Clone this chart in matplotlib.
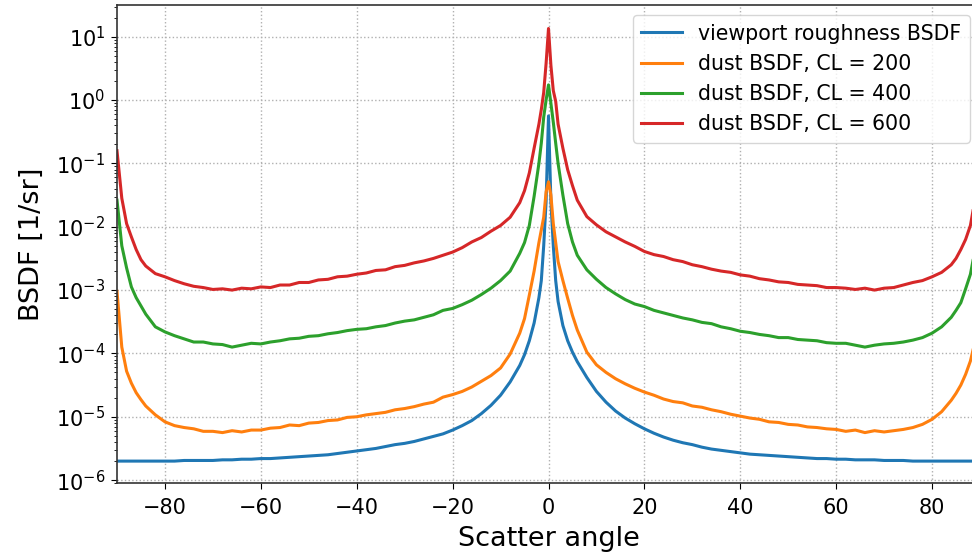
import numpy as np
import matplotlib
matplotlib.use("Agg")
import matplotlib.pyplot as plt
from matplotlib.ticker import NullFormatter

# scatter angle in degrees (shared by all curves)
angles = [-90, -89, -88, -87, -86, -85, -84, -82, -80, -78, -76, -74, -72, -70,
          -68, -66, -64, -62, -60, -58, -56, -54, -52, -50, -48, -46, -44, -42,
          -40, -38, -36, -34, -32, -30, -28, -26, -24, -22, -20, -18, -16, -14,
          -12, -10, -8, -6, -5, -4, -3, -2, -1.5, -1, -0.5, 0,
          0.5, 1, 1.5, 2, 3, 4, 5, 6, 8, 10, 12, 14, 16, 18, 20, 22, 24, 26,
          28, 30, 32, 34, 36, 38, 40, 42, 44, 46, 48, 50, 52, 54, 56, 58, 60,
          62, 64, 66, 68, 70, 72, 74, 76, 78, 80, 82, 84, 85, 86, 87, 88, 89, 90]

# log10 of BSDF [1/sr]
log_viewport = [-5.70, -5.70, -5.70, -5.70, -5.70, -5.70, -5.70, -5.70, -5.70, -5.70, -5.69, -5.69, -5.69, -5.69,
                -5.68, -5.68, -5.67, -5.67, -5.66, -5.66, -5.65, -5.64, -5.63, -5.62, -5.61, -5.60, -5.58, -5.56,
                -5.54, -5.52, -5.50, -5.47, -5.44, -5.42, -5.39, -5.35, -5.31, -5.27, -5.21, -5.14, -5.06, -4.95,
                -4.82, -4.66, -4.45, -4.19, -4.02, -3.80, -3.52, -3.12, -2.85, -2.30, -1.60, -0.25,
                -1.60, -2.30, -2.85, -3.18, -3.56, -3.80, -3.98, -4.13, -4.38, -4.60, -4.77, -4.91, -5.02, -5.11,
                -5.19, -5.26, -5.32, -5.37, -5.41, -5.44, -5.48, -5.51, -5.53, -5.55, -5.57, -5.59, -5.60, -5.61,
                -5.62, -5.63, -5.64, -5.65, -5.66, -5.66, -5.67, -5.67, -5.68, -5.68, -5.68, -5.69, -5.69, -5.69,
                -5.70, -5.70, -5.70, -5.70, -5.70, -5.70, -5.70, -5.70, -5.70, -5.70, -5.70]

log_cl200 = [-3.02, -3.90, -4.28, -4.47, -4.62, -4.73, -4.83, -4.97, -5.08, -5.14, -5.17, -5.19, -5.23, -5.23,
             -5.25, -5.22, -5.24, -5.21, -5.21, -5.18, -5.17, -5.13, -5.14, -5.10, -5.09, -5.06, -5.05, -5.01,
             -5.00, -4.97, -4.95, -4.93, -4.89, -4.87, -4.84, -4.80, -4.77, -4.69, -4.65, -4.60, -4.53, -4.44,
             -4.35, -4.23, -4.01, -3.68, -3.45, -3.08, -2.70, -2.25, -2.05, -1.85, -1.45, -1.29,
             -1.50, -1.95, -2.25, -2.55, -2.85, -3.13, -3.40, -3.63, -3.98, -4.18, -4.30, -4.40, -4.48, -4.55,
             -4.61, -4.66, -4.72, -4.76, -4.78, -4.83, -4.85, -4.89, -4.92, -4.96, -4.99, -5.02, -5.04, -5.08,
             -5.09, -5.12, -5.13, -5.16, -5.17, -5.19, -5.20, -5.23, -5.21, -5.25, -5.22, -5.24, -5.22, -5.20,
             -5.17, -5.12, -5.04, -4.92, -4.74, -4.63, -4.50, -4.33, -4.12, -3.80, -3.00]

log_cl400 = [-1.58, -2.30, -2.65, -2.95, -3.12, -3.25, -3.38, -3.58, -3.66, -3.72, -3.77, -3.82, -3.82, -3.85,
             -3.86, -3.90, -3.87, -3.84, -3.85, -3.82, -3.80, -3.77, -3.76, -3.73, -3.72, -3.69, -3.67, -3.64,
             -3.62, -3.61, -3.58, -3.56, -3.52, -3.49, -3.47, -3.43, -3.39, -3.32, -3.29, -3.23, -3.16, -3.07,
             -2.97, -2.85, -2.70, -2.42, -2.25, -1.98, -1.52, -1.00, -0.68, -0.27, 0.00, 0.24,
             -0.05, -0.35, -0.68, -1.00, -1.50, -1.95, -2.24, -2.45, -2.68, -2.83, -2.96, -3.06, -3.15, -3.22,
             -3.26, -3.32, -3.36, -3.40, -3.44, -3.47, -3.51, -3.53, -3.58, -3.61, -3.65, -3.67, -3.70, -3.72,
             -3.75, -3.75, -3.78, -3.79, -3.80, -3.83, -3.84, -3.84, -3.87, -3.90, -3.87, -3.85, -3.84, -3.82,
             -3.79, -3.75, -3.68, -3.58, -3.43, -3.32, -3.20, -2.98, -2.75, -2.35, -1.60]

log_cl600 = [-0.80, -1.55, -1.95, -2.16, -2.36, -2.52, -2.62, -2.74, -2.79, -2.85, -2.90, -2.94, -2.96, -2.99,
             -2.98, -3.00, -2.97, -2.98, -2.95, -2.96, -2.92, -2.92, -2.88, -2.88, -2.84, -2.83, -2.79, -2.78,
             -2.75, -2.73, -2.69, -2.68, -2.63, -2.61, -2.57, -2.54, -2.50, -2.45, -2.40, -2.33, -2.24, -2.17,
             -2.07, -1.98, -1.85, -1.62, -1.43, -1.15, -0.76, -0.38, -0.15, 0.12, 0.58, 1.13,
             0.55, 0.15, -0.02, -0.38, -0.76, -1.10, -1.35, -1.58, -1.84, -1.97, -2.08, -2.16, -2.24, -2.31,
             -2.39, -2.44, -2.47, -2.52, -2.55, -2.60, -2.63, -2.67, -2.70, -2.72, -2.76, -2.78, -2.82, -2.84,
             -2.87, -2.88, -2.91, -2.92, -2.93, -2.96, -2.96, -2.97, -2.99, -2.97, -3.00, -2.97, -2.96, -2.92,
             -2.88, -2.85, -2.79, -2.72, -2.60, -2.50, -2.36, -2.20, -1.98, -1.55, -0.80]

labels = ["viewport roughness BSDF", "dust BSDF, CL = 200",
          "dust BSDF, CL = 400", "dust BSDF, CL = 600"]
x_ticks = [-80, -60, -40, -20, 0, 20, 40, 60, 80]
y_ticks = [1e-6, 1e-5, 1e-4, 1e-3, 1e-2, 1e-1, 1e0, 1e1]

fig = plt.figure(figsize=(9.72, 5.53), dpi=100)
# the original is cropped on the right, so the axes run past the figure edge
ax = fig.add_axes([117 / 972, 70 / 553, 863 / 972, 478 / 553])

for vals, lab in zip([log_viewport, log_cl200, log_cl400, log_cl600], labels):
    ax.plot(angles, 10.0 ** np.array(vals), lw=2.2, label=lab)

ax.set_yscale("log")
ax.set_xlim(-90, 90)
ax.set_ylim(9.0e-7, 31.7)
ax.set_xticks(x_ticks)
ax.set_yticks(y_ticks)
ax.yaxis.set_minor_formatter(NullFormatter())
ax.grid(True, which="major", ls=":", color="#b0b0b0", lw=1)
ax.tick_params(labelsize=15)
ax.tick_params(axis="x", which="major", length=4.5, pad=6)
ax.tick_params(axis="y", which="major", length=4.5, pad=4)
for sp in ax.spines.values():
    sp.set_color("#333333")
    sp.set_linewidth(1.2)
ax.set_xlabel("Scatter angle", fontsize=19.5, labelpad=6)
ax.set_ylabel("BSDF [1/sr]", fontsize=19.5, labelpad=8)
ax.legend(loc="upper right", fontsize=14.8)

fig.savefig("out.png", dpi=100)
